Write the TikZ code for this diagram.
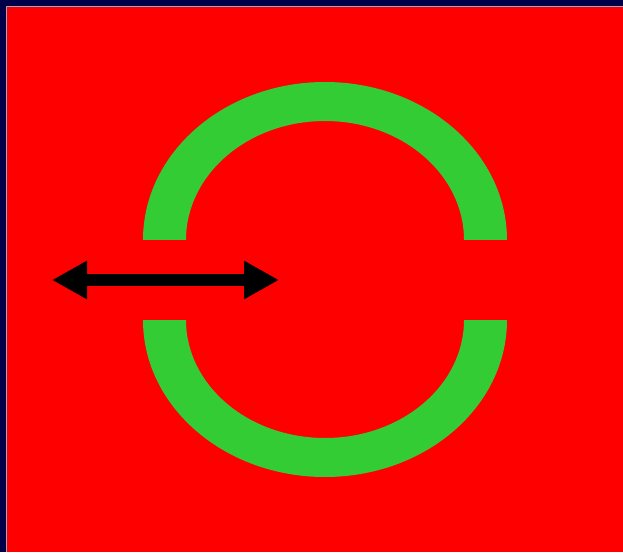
\documentclass[tikz,border=0pt]{standalone}
\usepackage{xcolor}
\usetikzlibrary{arrows.meta}
\definecolor{flagnavy}{RGB}{0, 0, 72}
\definecolor{flagred}{RGB}{255, 0, 0}
\definecolor{flaggreen}{RGB}{52, 204, 52}
\definecolor{flagedge}{RGB}{160, 160, 200}
\tikzset{
  ring/.style={fill=flaggreen},
  bigarrow/.style={{Triangle[length=35pt, width=36pt]}-{Triangle[length=35pt, width=36pt]}, line width=12pt, color=black},
}
\begin{document}
\begin{tikzpicture}[x=1pt, y=1pt]
        % Background and frame
        \useasboundingbox (0,0) rectangle (623,552);
        \fill[flagnavy] (0,0) rectangle (623,552);
        \fill[flagred] (7,0) rectangle (623,545);
        \draw[flagedge, line width=1pt] (6.5,0) -- (6.5,545.5) -- (623,545.5);

        % Upper arc
        \fill[ring] (143,312) arc[start angle=180, end angle=0, x radius=182, y radius=158]
             -- (464,312) arc[start angle=0, end angle=180, x radius=139, y radius=119] -- cycle;

        % Lower arc
        \fill[ring] (143,232) arc[start angle=180, end angle=360, x radius=182, y radius=157]
             -- (464,232) arc[start angle=360, end angle=180, x radius=139, y radius=118] -- cycle;

        % Double arrow
        \coordinate (left) at (52,272);
        \coordinate (right) at (279,272);
        \draw[bigarrow] (left) -- (right);
      \end{tikzpicture}
\end{document}
